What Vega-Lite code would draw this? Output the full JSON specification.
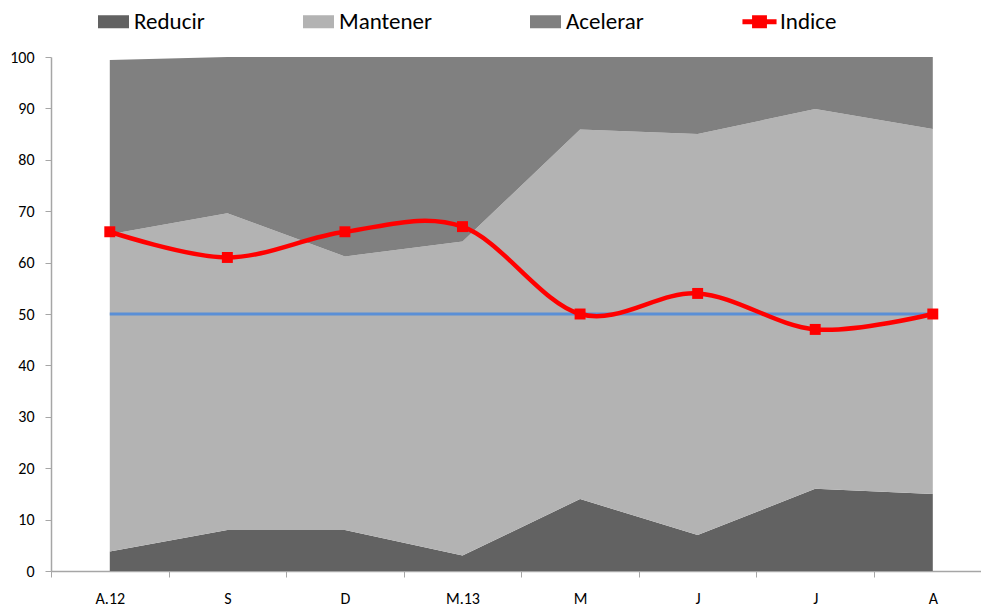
{
  "$schema": "https://vega.github.io/schema/vega-lite/v6.json",
  "width": 930,
  "height": 514,
  "autosize": {"type": "none"},
  "padding": {"left": 51, "top": 57, "right": 0, "bottom": 36},
  "background": "white",
  "config": {
    "view": {"stroke": null},
    "font": "Carlito, Lato, Liberation Sans, sans-serif"
  },
  "datasets": {
    "areas": [
      {"i": 0, "mes": "A.12", "serie": "Reducir", "ord": 1, "valor": 3.8},
      {"i": 0, "mes": "A.12", "serie": "Mantener", "ord": 2, "valor": 61.7},
      {"i": 0, "mes": "A.12", "serie": "Acelerar", "ord": 3, "valor": 33.9},
      {"i": 1, "mes": "S", "serie": "Reducir", "ord": 1, "valor": 8},
      {"i": 1, "mes": "S", "serie": "Mantener", "ord": 2, "valor": 61.6},
      {"i": 1, "mes": "S", "serie": "Acelerar", "ord": 3, "valor": 30.4},
      {"i": 2, "mes": "D", "serie": "Reducir", "ord": 1, "valor": 8},
      {"i": 2, "mes": "D", "serie": "Mantener", "ord": 2, "valor": 53.2},
      {"i": 2, "mes": "D", "serie": "Acelerar", "ord": 3, "valor": 38.8},
      {"i": 3, "mes": "M.13", "serie": "Reducir", "ord": 1, "valor": 3},
      {"i": 3, "mes": "M.13", "serie": "Mantener", "ord": 2, "valor": 61.1},
      {"i": 3, "mes": "M.13", "serie": "Acelerar", "ord": 3, "valor": 35.9},
      {"i": 4, "mes": "M", "serie": "Reducir", "ord": 1, "valor": 14},
      {"i": 4, "mes": "M", "serie": "Mantener", "ord": 2, "valor": 71.9},
      {"i": 4, "mes": "M", "serie": "Acelerar", "ord": 3, "valor": 14.1},
      {"i": 5, "mes": "J", "serie": "Reducir", "ord": 1, "valor": 7},
      {"i": 5, "mes": "J", "serie": "Mantener", "ord": 2, "valor": 78},
      {"i": 5, "mes": "J", "serie": "Acelerar", "ord": 3, "valor": 15},
      {"i": 6, "mes": "J", "serie": "Reducir", "ord": 1, "valor": 16},
      {"i": 6, "mes": "J", "serie": "Mantener", "ord": 2, "valor": 73.9},
      {"i": 6, "mes": "J", "serie": "Acelerar", "ord": 3, "valor": 10.1},
      {"i": 7, "mes": "A", "serie": "Reducir", "ord": 1, "valor": 15},
      {"i": 7, "mes": "A", "serie": "Mantener", "ord": 2, "valor": 71},
      {"i": 7, "mes": "A", "serie": "Acelerar", "ord": 3, "valor": 14}
    ],
    "indice": [
      {"i": 0, "mes": "A.12", "indice": 66, "ref": 50},
      {"i": 1, "mes": "S", "indice": 61, "ref": 50},
      {"i": 2, "mes": "D", "indice": 66, "ref": 50},
      {"i": 3, "mes": "M.13", "indice": 67, "ref": 50},
      {"i": 4, "mes": "M", "indice": 50, "ref": 50},
      {"i": 5, "mes": "J", "indice": 54, "ref": 50},
      {"i": 6, "mes": "J", "indice": 47, "ref": 50},
      {"i": 7, "mes": "A", "indice": 50, "ref": 50}
    ]
  },
  "encoding": {
    "x": {
      "field": "i",
      "type": "quantitative",
      "scale": {"domain": [-0.5, 7.41], "nice": false, "zero": false},
      "axis": {
        "title": null,
        "values": [0, 1, 2, 3, 4, 5, 6, 7],
        "labelExpr": "['A.12','S','D','M.13','M','J','J','A'][datum.value]",
        "tickOffset": -58.8,
        "labelOffset": 58.8,
        "tickSize": 6,
        "tickColor": "#a6a6a6",
        "domainColor": "#a6a6a6",
        "domainWidth": 1.5,
        "labelPadding": 13,
        "labelFontSize": 16,
        "labelColor": "#000000",
        "labelFlush": false,
        "grid": false
      }
    }
  },
  "layer": [
    {
      "data": {"name": "areas"},
      "mark": {"type": "area"},
      "encoding": {
        "y": {
          "field": "valor",
          "type": "quantitative",
          "stack": "zero",
          "scale": {"domain": [0, 100], "nice": false},
          "axis": {
            "title": null,
            "values": [0, 10, 20, 30, 40, 50, 60, 70, 80, 90, 100],
            "grid": false,
            "tickSize": 6,
            "tickColor": "#a6a6a6",
            "domainColor": "#a6a6a6",
            "domainWidth": 1.5,
            "labelPadding": 11,
            "labelFontSize": 16,
            "labelColor": "#000000"
          }
        },
        "color": {
          "field": "serie",
          "type": "nominal",
          "scale": {
            "domain": ["Reducir", "Mantener", "Acelerar", "Indice"],
            "range": ["#626262", "#b3b3b3", "#808080", "#ff0000"]
          },
          "legend": {
            "title": null,
            "orient": "none",
            "legendX": 47,
            "legendY": -51,
            "direction": "horizontal",
            "padding": 0,
            "symbolType": "M-1,-0.42H1V0.42H-1Z",
            "symbolSize": 961,
            "symbolStrokeWidth": 0,
            "symbolOpacity": 1,
            "labelFontSize": 23,
            "labelColor": "#000000",
            "labelOffset": 5,
            "columnPadding": 98,
            "labelLimit": 300,
            "encode": {
              "symbols": {
                "update": {
                  "shape": {"signal": "datum.value === 'Indice' ? 'M-1.1,-0.16H-0.48V-0.42H0.48V-0.16H1.1V0.16H0.48V0.42H-0.48V0.16H-1.1Z' : 'M-1,-0.42H1V0.42H-1Z'"}
                }
              }
            }
          }
        },
        "order": {"field": "ord", "type": "quantitative"}
      }
    },
    {
      "data": {"name": "indice"},
      "mark": {"type": "line", "color": "#5a8fd6", "strokeWidth": 3},
      "encoding": {
        "y": {"field": "ref", "type": "quantitative"}
      }
    },
    {
      "data": {"name": "indice"},
      "mark": {"type": "line", "color": "#ff0000", "strokeWidth": 4.5, "interpolate": "cardinal"},
      "encoding": {
        "y": {"field": "indice", "type": "quantitative"}
      }
    },
    {
      "data": {"name": "indice"},
      "mark": {"type": "point", "shape": "square", "filled": true, "color": "#ff0000", "size": 120, "opacity": 1},
      "encoding": {
        "y": {"field": "indice", "type": "quantitative"}
      }
    }
  ]
}
